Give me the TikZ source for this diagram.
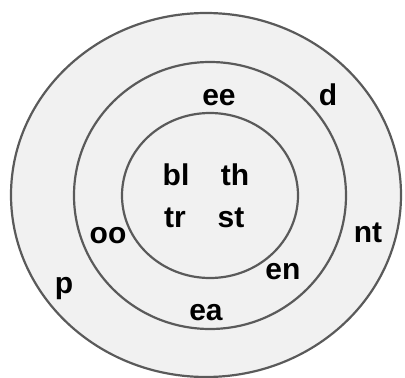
\documentclass[tikz,border=0pt]{standalone}
\usepackage{fontspec}
\setmainfont{Liberation Sans}
\usetikzlibrary{positioning}
\definecolor{ringgray}{HTML}{5A5A5A}
\definecolor{ringfill}{HTML}{F1F1F1}
\begin{document}
\begin{tikzpicture}[x=1pt,y=-1pt,
  ring/.style={draw=ringgray,line width=2.2pt,fill=ringfill},
  word/.style={inner sep=0pt,font=\fontsize{30}{32}\selectfont\bfseries}]
\useasboundingbox (0,0) rectangle (405,378);
\draw[ring] (206,195) ellipse [x radius=195, y radius=182];
\draw[ring] (210,195.5) ellipse [x radius=136, y radius=133.5];
\draw[ring] (210,195.5) ellipse [x radius=88, y radius=82.5];
% inner ring
\node[word] (bl) at (176,175) {bl};
\node[word] (th) at (235,175) {th};
\node[word] (tr) at (175,218) {tr};
\node[word] (st) at (231,218) {st};
% middle ring
\node[word] (ee) at (219,97.5) {ee};
\node[word] (oo) at (108,235.5) {oo};
\node[word] (en) at (283,272) {en};
\node[word] (ea) at (206,313) {ea};
% outer ring
\node[word] (d) at (328,94.5) {d};
\node[word] (nt) at (368,233) {nt};
\node[word] (p) at (64,289) {p};
\end{tikzpicture}
\end{document}
